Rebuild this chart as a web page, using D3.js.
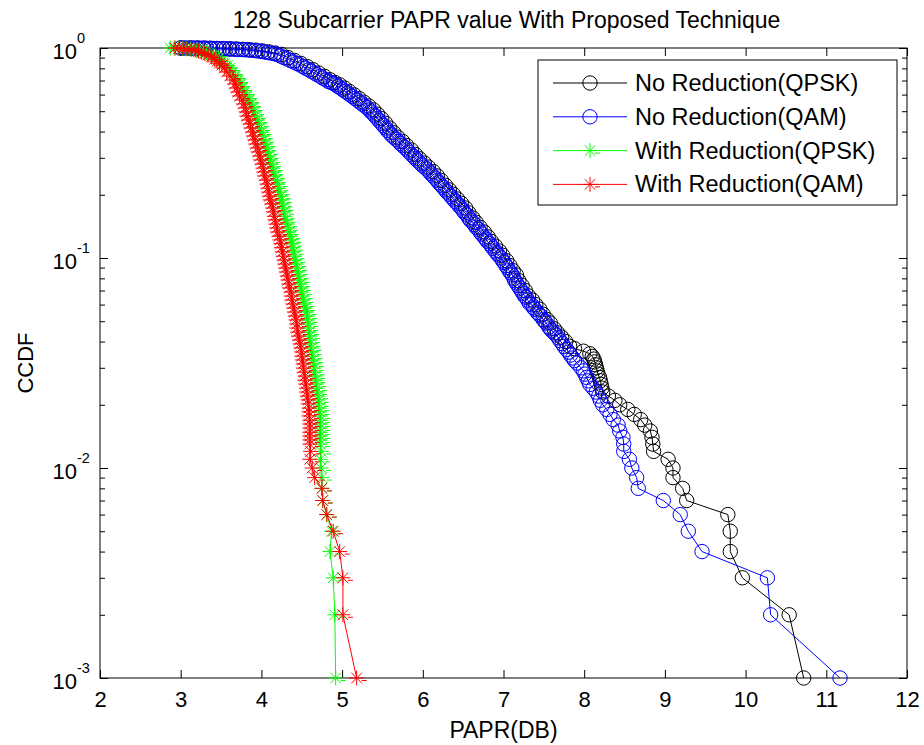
<!DOCTYPE html>
<html><head><meta charset="utf-8">
<script src="https://cdn.jsdelivr.net/npm/d3@7"></script>
<style>
html,body{margin:0;padding:0;background:#fff;}
svg{display:block;font-family:"Liberation Sans",Arial,Helvetica,sans-serif;}
</style></head><body>
<svg id="chart" width="924" height="745"></svg>
<script>
// ---------- data ----------
const xTicks = [2,3,4,5,6,7,8,9,10,11,12];
const yTicks = [0.001,0.01,0.1,1];
const yTickExponents = ["-3","-2","-1","0"];
const titleText = "128 Subcarrier PAPR value With Proposed Technique";
const xLabel = "PAPR(DB)";
const yLabel = "CCDF";
const seriesNames = ["No Reduction(QPSK)","No Reduction(QAM)","With Reduction(QPSK)","With Reduction(QAM)"];

// [PAPR dB, CCDF]
const noRedQPSK = [
[3.00,1.000],[3.13,1.000],[3.21,0.999],[3.29,0.998],[3.37,0.997],[3.45,0.995],[3.53,0.993],[3.61,0.991],
[3.69,0.988],[3.77,0.985],[3.85,0.981],[3.93,0.976],[4.01,0.968],[4.09,0.958],[4.17,0.946],[4.25,0.932],
[4.33,0.900],[4.41,0.872],[4.49,0.844],[4.57,0.815],[4.64,0.788],[4.71,0.760],[4.78,0.733],[4.85,0.706],
[4.91,0.686],[4.97,0.668],[5.03,0.645],[5.09,0.621],[5.15,0.598],[5.21,0.575],[5.27,0.552],[5.33,0.530],
[5.39,0.507],[5.44,0.484],[5.49,0.461],[5.54,0.438],[5.59,0.416],[5.64,0.395],[5.69,0.376],[5.75,0.359],
[5.80,0.343],[5.86,0.327],[5.91,0.311],[5.96,0.297],[6.02,0.283],[6.07,0.271],[6.13,0.258],[6.18,0.246],
[6.23,0.234],[6.28,0.222],[6.33,0.211],[6.38,0.201],[6.43,0.191],[6.48,0.182],[6.53,0.173],[6.57,0.164],
[6.62,0.155],[6.66,0.148],[6.71,0.140],[6.76,0.133],[6.81,0.126],[6.85,0.120],[6.90,0.114],[6.95,0.108],
[6.99,0.103],[7.04,0.097],[7.08,0.092],[7.12,0.087],[7.16,0.083],[7.19,0.078],[7.23,0.074],[7.27,0.070],
[7.31,0.066],[7.36,0.063],[7.40,0.060],[7.45,0.057],[7.49,0.054],[7.54,0.051],[7.58,0.049],[7.63,0.046],
[7.67,0.044],[7.72,0.042],[7.77,0.040],[7.82,0.038],[7.88,0.037],
[7.99,0.036],[8.07,0.035],[8.10,0.034],[8.12,0.033],[8.13,0.032],[8.14,0.031],[8.15,0.030],[8.16,0.029],
[8.17,0.028],[8.19,0.027],[8.20,0.026],[8.21,0.025],[8.22,0.024],[8.23,0.023],[8.30,0.022],[8.38,0.021],
[8.44,0.020],[8.54,0.019],[8.62,0.018],[8.70,0.017],[8.75,0.016],[8.82,0.015],[8.84,0.014],[8.85,0.013],
[8.86,0.012],[9.04,0.011],[9.10,0.010],[9.10,0.009],[9.22,0.008],[9.27,0.007],[9.78,0.006],[9.81,0.005],
[9.81,0.004],[9.96,0.003],[10.54,0.002],[10.72,0.001]
];
const noRedQAM = [
[3.00,1.000],[3.04,1.000],[3.08,1.000],[3.12,0.999],[3.16,0.999],[3.20,0.999],[3.24,0.998],[3.28,0.998],
[3.32,0.997],[3.36,0.996],[3.40,0.995],[3.44,0.994],[3.48,0.993],[3.52,0.992],[3.56,0.991],[3.60,0.989],
[3.64,0.988],[3.68,0.986],[3.72,0.985],[3.76,0.983],[3.80,0.981],[3.84,0.979],[3.88,0.976],[3.92,0.972],
[3.96,0.968],[4.00,0.963],[4.04,0.958],[4.08,0.952],[4.12,0.946],[4.16,0.939],[4.20,0.932],[4.24,0.915],
[4.28,0.900],[4.32,0.886],[4.36,0.872],[4.40,0.858],[4.44,0.844],[4.48,0.830],[4.52,0.814],[4.55,0.801],
[4.59,0.787],[4.62,0.774],[4.66,0.760],[4.69,0.746],[4.73,0.733],[4.76,0.719],[4.80,0.706],[4.83,0.693],
[4.86,0.686],[4.89,0.680],[4.92,0.668],[4.95,0.656],[4.98,0.645],[5.01,0.633],[5.04,0.621],[5.07,0.610],
[5.10,0.598],[5.13,0.587],[5.16,0.575],[5.19,0.564],[5.22,0.552],[5.25,0.541],[5.28,0.530],[5.31,0.520],
[5.34,0.507],[5.36,0.496],[5.39,0.484],[5.41,0.473],[5.44,0.461],[5.46,0.450],[5.49,0.438],[5.51,0.427],
[5.54,0.416],[5.56,0.405],[5.59,0.395],[5.61,0.385],[5.64,0.376],[5.67,0.367],[5.70,0.359],[5.72,0.351],
[5.75,0.343],[5.78,0.335],[5.81,0.327],[5.83,0.319],[5.86,0.311],[5.89,0.304],[5.91,0.297],[5.94,0.290],
[5.97,0.283],[5.99,0.277],[6.02,0.271],[6.05,0.265],[6.08,0.258],[6.10,0.252],[6.13,0.246],[6.15,0.240],
[6.18,0.234],[6.20,0.228],[6.23,0.222],[6.25,0.217],[6.28,0.211],[6.30,0.206],[6.33,0.201],[6.35,0.196],
[6.38,0.191],[6.40,0.186],[6.43,0.182],[6.45,0.177],[6.48,0.173],[6.50,0.168],[6.52,0.164],[6.55,0.160],
[6.57,0.155],[6.59,0.151],[6.62,0.148],[6.64,0.144],[6.66,0.140],[6.69,0.137],[6.71,0.133],[6.73,0.130],
[6.76,0.126],[6.78,0.123],[6.80,0.120],[6.83,0.117],[6.85,0.114],[6.87,0.111],[6.90,0.108],[6.92,0.105],
[6.94,0.103],[6.97,0.100],[6.99,0.097],[7.01,0.095],[7.03,0.092],[7.05,0.090],[7.07,0.087],[7.09,0.085],
[7.11,0.083],[7.13,0.080],[7.14,0.078],[7.16,0.076],[7.18,0.074],[7.20,0.072],[7.22,0.070],[7.24,0.068],
[7.26,0.066],[7.28,0.065],[7.30,0.063],[7.32,0.061],[7.35,0.060],[7.37,0.058],[7.39,0.057],[7.42,0.055],
[7.44,0.054],[7.46,0.053],[7.49,0.051],[7.51,0.050],[7.53,0.049],[7.56,0.047],[7.58,0.046],[7.60,0.045],
[7.63,0.044],[7.65,0.043],[7.68,0.0417],[7.70,0.0404],[7.73,0.0391],[7.75,0.0379],[7.78,0.0367],[7.81,0.0356],
[7.83,0.0345],[7.86,0.0334],[7.88,0.0325],[7.91,0.0316],
[7.96,0.030],[7.99,0.029],[8.01,0.028],[8.03,0.027],[8.05,0.026],[8.07,0.025],[8.11,0.024],[8.15,0.023],
[8.18,0.022],[8.20,0.021],[8.23,0.020],[8.28,0.019],[8.32,0.018],[8.36,0.017],[8.42,0.016],[8.44,0.015],
[8.48,0.014],[8.49,0.013],[8.49,0.012],[8.56,0.011],[8.59,0.010],[8.65,0.009],[8.67,0.008],[8.98,0.007],
[9.19,0.006],[9.29,0.005],[9.46,0.004],[10.27,0.003],[10.31,0.002],[11.17,0.001]
];
const withRedQPSK = [
[2.87,1.000],[2.92,0.999],[2.97,0.998],[3.02,0.995],[3.07,0.992],[3.12,0.989],[3.16,0.983],[3.20,0.976],
[3.24,0.970],[3.28,0.962],[3.32,0.951],[3.36,0.937],[3.40,0.922],[3.44,0.905],[3.47,0.888],[3.51,0.866],
[3.54,0.845],[3.58,0.824],
[3.61,0.803],[3.64,0.769],[3.68,0.736],[3.71,0.704],[3.74,0.674],[3.76,0.645],[3.79,0.617],[3.82,0.591],
[3.85,0.565],[3.87,0.541],[3.89,0.518],[3.91,0.496],[3.93,0.474],[3.95,0.454],[3.97,0.435],[3.98,0.416],
[4.00,0.398],[4.02,0.381],[4.03,0.365],[4.05,0.349],[4.06,0.334],[4.08,0.320],[4.09,0.306],[4.11,0.293],
[4.12,0.280],[4.14,0.268],[4.15,0.257],[4.17,0.246],[4.18,0.235],[4.20,0.225],[4.21,0.215],[4.22,0.206],
[4.24,0.197],[4.25,0.189],[4.26,0.181],[4.27,0.173],[4.28,0.166],[4.29,0.158],[4.30,0.152],[4.32,0.145],
[4.33,0.139],[4.34,0.133],[4.36,0.127],[4.37,0.122],[4.38,0.117],[4.39,0.112],[4.40,0.107],[4.41,0.102],
[4.42,0.0978],[4.43,0.0936],[4.44,0.0896],[4.45,0.0858],[4.46,0.0821],[4.47,0.0786],[4.48,0.0752],[4.49,0.0720],
[4.50,0.0689],[4.51,0.0659],[4.52,0.0631],[4.53,0.0604],[4.54,0.0578],[4.56,0.0553],[4.57,0.0529],[4.57,0.0507],
[4.58,0.0485],[4.58,0.0464],[4.59,0.0444],[4.60,0.0425],[4.60,0.0407],[4.61,0.0390],[4.62,0.0373],[4.62,0.0357],
[4.63,0.0341],[4.64,0.0327],[4.65,0.0313],[4.65,0.0299],[4.66,0.0286],[4.67,0.0274],[4.67,0.0262],[4.68,0.0251],
[4.69,0.0240],[4.69,0.0230],[4.70,0.0220],[4.71,0.0211],[4.71,0.0202],[4.72,0.0193],[4.72,0.0185],[4.73,0.0177],
[4.73,0.0169],[4.73,0.0162],[4.73,0.0155],[4.73,0.0148],[4.73,0.0142],[4.73,0.0136],
[4.73,0.013],[4.74,0.012],[4.73,0.011],[4.74,0.010],[4.75,0.009],[4.75,0.008],[4.76,0.007],[4.81,0.006],
[4.87,0.005],[4.85,0.004],[4.89,0.003],[4.91,0.002],[4.92,0.001]
];
const withRedQAM = [
[2.93,1.000],[2.98,0.999],[3.03,0.997],[3.08,0.993],[3.13,0.987],[3.18,0.978],[3.22,0.967],[3.26,0.955],
[3.30,0.940],[3.34,0.925],[3.38,0.906],[3.42,0.885],[3.45,0.865],[3.48,0.846],[3.51,0.829],
[3.54,0.803],[3.57,0.769],[3.61,0.736],[3.65,0.704],[3.67,0.674],[3.69,0.645],[3.71,0.617],[3.73,0.591],
[3.76,0.565],[3.78,0.541],[3.80,0.518],[3.81,0.496],[3.82,0.474],[3.84,0.454],[3.86,0.435],[3.87,0.416],
[3.89,0.398],[3.90,0.381],[3.92,0.365],[3.93,0.349],[3.95,0.334],[3.96,0.320],[3.98,0.306],[3.99,0.293],
[4.01,0.280],[4.02,0.268],[4.03,0.257],[4.04,0.246],[4.06,0.235],[4.07,0.225],[4.08,0.215],[4.09,0.206],
[4.10,0.197],[4.11,0.189],[4.13,0.181],[4.14,0.173],[4.15,0.166],[4.16,0.158],[4.17,0.152],[4.18,0.145],
[4.19,0.139],[4.20,0.133],[4.22,0.127],[4.23,0.122],[4.24,0.117],[4.25,0.112],[4.26,0.107],[4.27,0.102],
[4.28,0.0978],[4.29,0.0936],[4.30,0.0896],[4.31,0.0858],[4.32,0.0821],[4.33,0.0786],[4.34,0.0752],[4.35,0.0720],
[4.37,0.0689],[4.37,0.0659],[4.38,0.0631],[4.39,0.0604],[4.40,0.0578],[4.41,0.0553],[4.42,0.0529],[4.43,0.0507],
[4.44,0.0485],[4.44,0.0464],[4.45,0.0444],[4.46,0.0425],[4.47,0.0407],[4.48,0.0390],[4.49,0.0373],[4.50,0.0357],
[4.50,0.0341],[4.51,0.0327],[4.52,0.0313],[4.52,0.0299],[4.53,0.0286],[4.54,0.0274],[4.54,0.0262],[4.55,0.0251],
[4.56,0.0240],[4.56,0.0230],[4.57,0.0220],[4.58,0.0211],[4.58,0.0202],[4.59,0.0193],[4.59,0.0185],[4.59,0.0177],
[4.60,0.0169],[4.60,0.0162],[4.60,0.0155],[4.60,0.0148],[4.60,0.0142],[4.60,0.0136],
[4.60,0.013],[4.61,0.012],[4.60,0.011],[4.63,0.010],[4.66,0.009],[4.75,0.008],[4.76,0.007],[4.81,0.006],
[4.89,0.005],[4.97,0.004],[5.01,0.003],[5.01,0.002],[5.18,0.001]
];

// ---------- drawing ----------
const W = 924, H = 745;
const L = 100, R = 907, T = 48, B = 678;
const svg = d3.select("#chart");
const x = d3.scaleLinear().domain([2,12]).range([L,R]);
const y = d3.scaleLog().domain([0.001,1]).range([B,T]);

const series = [
  {name: seriesNames[0], data: noRedQPSK, color: "#000000", marker: "o"},
  {name: seriesNames[1], data: noRedQAM, color: "#0000ff", marker: "o"},
  {name: seriesNames[2], data: withRedQPSK, color: "#00ff00", marker: "*"},
  {name: seriesNames[3], data: withRedQAM, color: "#ff0000", marker: "*"}
];

svg.append("rect").attr("x",0).attr("y",0).attr("width",W).attr("height",H).attr("fill","#fff");

// frame
svg.append("rect").attr("x",L).attr("y",T).attr("width",R-L).attr("height",B-T)
  .attr("fill","none").attr("stroke","#000").attr("stroke-width",1);

const minorTicks = y.ticks().filter(v => Math.abs(Math.log10(v) - Math.round(Math.log10(v))) > 1e-6);

function styleAxis(g){
  g.select(".domain").remove();
  g.selectAll(".tick line").attr("stroke","#000").attr("stroke-width",1);
  g.selectAll("text").attr("fill","#000");
}
// bottom
svg.append("g").attr("transform",`translate(0,${B})`)
  .call(d3.axisBottom(x).tickValues(xTicks).tickSize(-8).tickPadding(13).tickFormat(d3.format("d")))
  .call(styleAxis)
  .call(g => g.selectAll("text").attr("font-size",22).attr("font-family","Liberation Sans, Arial, sans-serif"));
// top
svg.append("g").attr("transform",`translate(0,${T})`)
  .call(d3.axisTop(x).tickValues(xTicks).tickSize(-8).tickFormat(""))
  .call(styleAxis);
// left major
const leftG = svg.append("g").attr("transform",`translate(${L},0)`)
  .call(d3.axisLeft(y).tickValues(yTicks).tickSize(-8).tickFormat(""))
  .call(styleAxis);
leftG.selectAll(".tick").each(function(d){
  const g = d3.select(this);
  g.append("text").attr("x",-23).attr("y",10).attr("text-anchor","end")
    .attr("font-size",22).attr("fill","#000").text("10");
  g.append("text").attr("x",-23).attr("y",-6).attr("text-anchor","start")
    .attr("font-size",14.5).attr("fill","#000").text(yTickExponents[yTicks.indexOf(d)]);
});
// left minor
svg.append("g").attr("transform",`translate(${L},0)`)
  .call(d3.axisLeft(y).tickValues(minorTicks).tickSize(-5).tickFormat(""))
  .call(styleAxis);
// right
svg.append("g").attr("transform",`translate(${R},0)`)
  .call(d3.axisRight(y).tickValues(yTicks).tickSize(-8).tickFormat(""))
  .call(styleAxis);
svg.append("g").attr("transform",`translate(${R},0)`)
  .call(d3.axisRight(y).tickValues(minorTicks).tickSize(-5).tickFormat(""))
  .call(styleAxis);

// series
const line = d3.line().x(d => x(d[0])).y(d => y(d[1]));
const starPath = "M-7.5,0H7.5M0,-7.5V7.5M-5.3,-5.3L5.3,5.3M-5.3,5.3L5.3,-5.3M5,2.5H10";
function drawMarkers(g, pts, s){
  if (s.marker === "o"){
    g.selectAll("circle").data(pts).join("circle")
      .attr("cx", d => x(d[0])).attr("cy", d => y(d[1])).attr("r",7.2)
      .attr("fill","none").attr("stroke",s.color).attr("stroke-width",1);
  } else {
    g.selectAll("path.m").data(pts).join("path").attr("class","m")
      .attr("transform", d => `translate(${x(d[0])},${y(d[1])})`)
      .attr("d", starPath).attr("fill","none").attr("stroke",s.color).attr("stroke-width",1);
  }
}
series.forEach(s => {
  const g = svg.append("g");
  g.append("path").datum(s.data).attr("d",line).attr("fill","none")
    .attr("stroke",s.color).attr("stroke-width",1);
  drawMarkers(g, s.data, s);
});

// labels
svg.append("text").attr("x",(L+R)/2+3).attr("y",28).attr("text-anchor","middle")
  .attr("font-size",23).attr("fill","#000").text(titleText);
svg.append("text").attr("x",(L+R)/2).attr("y",738).attr("text-anchor","middle")
  .attr("font-size",23).attr("fill","#000").text(xLabel);
svg.append("text").attr("transform",`translate(33,${(T+B)/2}) rotate(-90)`).attr("text-anchor","middle")
  .attr("font-size",22).attr("fill","#000").text(yLabel);

// legend
const lg = svg.append("g");
lg.append("rect").attr("x",538).attr("y",60).attr("width",359).attr("height",145)
  .attr("fill","#fff").attr("stroke","#000").attr("stroke-width",1);
series.forEach((s,i) => {
  const ly = 83 + i*33.8;
  lg.append("line").attr("x1",553).attr("x2",627).attr("y1",ly).attr("y2",ly)
    .attr("stroke",s.color).attr("stroke-width",1);
  if (s.marker === "o"){
    lg.append("circle").attr("cx",590).attr("cy",ly).attr("r",7.2)
      .attr("fill","none").attr("stroke",s.color).attr("stroke-width",1);
  } else {
    lg.append("path").attr("transform",`translate(590,${ly})`).attr("d",starPath)
      .attr("fill","none").attr("stroke",s.color).attr("stroke-width",1);
  }
  lg.append("text").attr("x",635).attr("y",ly+8).attr("font-size",23.5).attr("fill","#000").text(s.name);
});
</script>
</body></html>
